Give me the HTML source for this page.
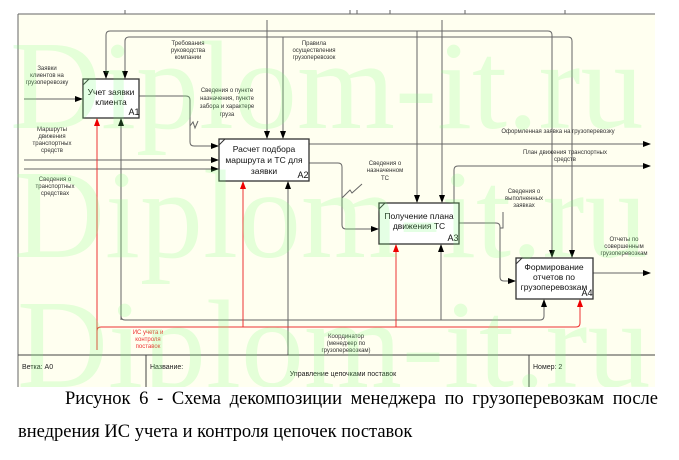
<!DOCTYPE html>
<html><head><meta charset="utf-8"><style>
html,body{margin:0;padding:0;background:#fff;}
body{width:679px;height:460px;position:relative;overflow:hidden;font-family:"Liberation Sans",sans-serif;}
.cap{position:absolute;left:18px;width:640px;font-family:"Liberation Serif",serif;font-size:18.5px;color:#000;}
</style></head><body>
<svg width="679" height="460" style="position:absolute;left:0;top:0" font-family="Liberation Sans, sans-serif">
<defs>
<marker id="ab" markerWidth="8" markerHeight="6" refX="7" refY="3" orient="auto" markerUnits="userSpaceOnUse"><path d="M0,0 L8,3 L0,6 z" fill="#000"/></marker>
<marker id="ar" markerWidth="8" markerHeight="6" refX="7" refY="3" orient="auto" markerUnits="userSpaceOnUse"><path d="M0,0 L8,3 L0,6 z" fill="#e00"/></marker>
<clipPath id="cl"><rect x="0" y="0" width="679" height="387"/></clipPath>
</defs>
<rect x="18" y="14" width="637" height="373" fill="#fffff0"/>
<g fill="none" stroke="#666" stroke-width="1">
<path d="M18,14 H655"/><path d="M18,14 V387"/>
<path d="M125,10 V14 M350,10 V14 M357,10 V14 M390,10 V14 M465,10 V14 M565,10 V14"/>
<path d="M106,78 V35 Q106,31 110,31 H548 Q552,31 552,35 V257" marker-end="url(#ab)"/>
<path d="M106,35 V78" marker-end="url(#ab)"/>
<path d="M125,78 V41 Q125,37 129,37 H568 Q572,37 572,41 V257" marker-end="url(#ab)"/>
<path d="M125,41 V78" marker-end="url(#ab)"/>
<path d="M267,20 V138" marker-end="url(#ab)"/>
<path d="M283,37 V138" marker-end="url(#ab)"/>
<path d="M417,31 V202" marker-end="url(#ab)"/>
<path d="M442,20 V202" marker-end="url(#ab)"/>
<path d="M24,99 H82" marker-end="url(#ab)"/>
<path d="M24,160 H218" marker-end="url(#ab)"/>
<path d="M24,169 H218" marker-end="url(#ab)"/>
<path d="M139,96 H186 Q190,96 190,100 V142 Q190,146 194,146 H218" marker-end="url(#ab)"/>
<path d="M190,126 L193,122 L195,128 L198,121"/>
<path d="M309,163 H338 Q342,163 342,167 V225 Q342,229 346,229 H378" marker-end="url(#ab)"/>
<path d="M342,198 L350,190 L352,193 L362,184"/>
<path d="M309,144 H650" marker-end="url(#ab)"/>
<path d="M454,203 V170 Q454,166 458,166 H650" marker-end="url(#ab)"/>
<path d="M459,223 H496 Q500,223 500,227 V277 Q500,281 504,281 H515" marker-end="url(#ab)"/>
<path d="M500,228 H503 V212"/>
<path d="M593,273 H650" marker-end="url(#ab)"/>
<path d="M121,119 V316 Q121,320 125,320 H540 Q544,320 544,316 V300" marker-end="url(#ab)"/>
<path d="M121,320 V119" marker-end="url(#ab)"/>
<path d="M288,355 V182" marker-end="url(#ab)"/>
<path d="M441,320 V245" marker-end="url(#ab)"/>
</g>
<g fill="none" stroke="#e33" stroke-width="1">
<path d="M97,350 V119" marker-end="url(#ar)"/>
<path d="M97,331 Q97,327 101,327 H576 Q580,327 580,323 V300" marker-end="url(#ar)"/>
<path d="M243,327 V182" marker-end="url(#ar)"/>
<path d="M396,327 V245" marker-end="url(#ar)"/>
</g>
<g fill="#fff" stroke="#333" stroke-width="1.3">
<rect x="83" y="79" width="56" height="39"/>
<rect x="219" y="139" width="90" height="42"/>
<rect x="379" y="203" width="80" height="41"/>
<rect x="516" y="258" width="77" height="41"/>
</g>
<g stroke="#333"><path d="M83,85 L89,79 M219,145 L225,139 M379,209 L385,203 M516,264 L522,258"/></g>
<g font-size="8.5" fill="#111" text-anchor="middle">
<text x="111" y="95">Учет заявки</text><text x="111" y="105">клиента</text>
<text x="134" y="115" font-size="9">А1</text>
<text x="264" y="152">Расчет подбора</text><text x="264" y="163">маршрута и ТС для</text><text x="264" y="174">заявки</text>
<text x="303" y="178" font-size="9">А2</text>
<text x="419" y="219">Получение плана</text><text x="419" y="229">движения ТС</text>
<text x="453" y="241" font-size="9">А3</text>
<text x="554" y="270">Формирование</text><text x="554" y="280">отчетов по</text><text x="554" y="290">грузоперевозкам</text>
<text x="587" y="296" font-size="9">А4</text>
</g>
<g font-size="6" fill="#333" text-anchor="middle">
<text x="47" y="70">Заявки</text><text x="47" y="77">клиентов на</text><text x="47" y="84">грузоперевозку</text>
<text x="188" y="45">Требования</text><text x="188" y="52">руководства</text><text x="188" y="59">компании</text>
<text x="314" y="45">Правила</text><text x="314" y="52">осуществления</text><text x="314" y="59">грузоперевозок</text>
<text x="227" y="92">Сведения о пункте</text><text x="227" y="100">назначения, пункте</text><text x="227" y="108">забора и характере</text><text x="227" y="116">груза</text>
<text x="52" y="131">Маршруты</text><text x="52" y="138">движения</text><text x="52" y="145">транспортных</text><text x="52" y="152">средств</text>
<text x="55" y="181">Сведения о</text><text x="55" y="188">транспортных</text><text x="55" y="195">средствах</text>
<text x="385" y="165">Сведения о</text><text x="385" y="172">назначенном</text><text x="385" y="180">ТС</text>
<text x="558" y="133">Оформленная заявка на грузоперевозку</text>
<text x="565" y="154">План движения транспортных</text><text x="565" y="161">средств</text>
<text x="524" y="193">Сведения о</text><text x="524" y="200">выполненных</text><text x="524" y="207">заявках</text>
<text x="624" y="241">Отчеты по</text><text x="624" y="248">совершенным</text><text x="624" y="255">грузоперевозкам</text>
<text x="148" y="334" fill="#e33">ИС учета и</text><text x="148" y="341" fill="#e33">контроля</text><text x="148" y="348" fill="#e33">поставок</text>
<text x="346" y="338">Координатор</text><text x="346" y="345">(менеджер по</text><text x="346" y="352">грузоперевозкам)</text>
</g>
<g stroke="#444" fill="none"><path d="M18,355 H655 M146,355 V387 M529,355 V387"/></g>
<g font-size="7" fill="#222">
<text x="22" y="369">Ветка: А0</text>
<text x="150" y="369">Название:</text>
<text x="343" y="376" text-anchor="middle">Управление цепочками поставок</text>
<text x="533" y="369">Номер: 2</text>
</g>
<g clip-path="url(#cl)" font-family="Liberation Serif, serif" font-size="126" fill="#7f7" fill-opacity="0.2">
<text x="10" y="128">Diplom-it.ru</text>
<text x="14" y="257">Diplom-it.ru</text>
<text x="17" y="387">Diplom-it.ru</text>
</g>
</svg>
<div class="cap" style="top:389px;text-indent:47px;text-align:justify;text-align-last:justify;">Рисунок 6 - Схема декомпозиции менеджера по грузоперевозкам после</div>
<div class="cap" style="top:422px;">внедрения ИС учета и контроля цепочек поставок</div>
</body></html>
